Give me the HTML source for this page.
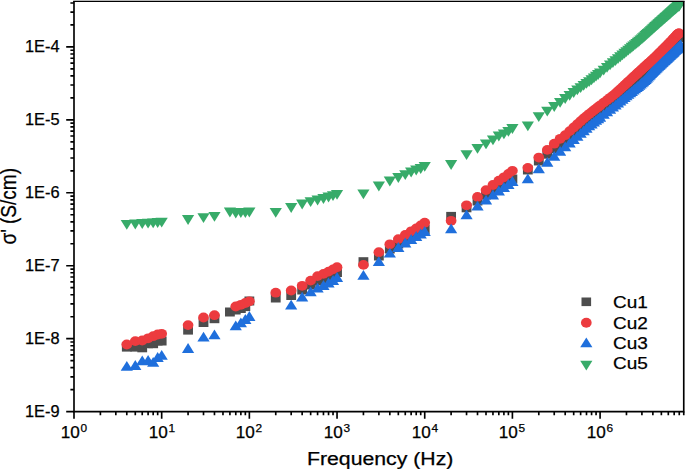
<!DOCTYPE html>
<html><head><meta charset="utf-8"><style>
html,body{margin:0;padding:0;background:#fff;}
body{width:685px;height:469px;position:relative;overflow:hidden;font-family:"Liberation Sans", sans-serif;color:#000;-webkit-text-stroke:0.25px #000;}
.yl{position:absolute;left:0;width:59.6px;text-align:right;font-size:15.6px;line-height:19px;white-space:nowrap;transform-origin:100% 50%;transform:scaleX(1.05);}
.xl{position:absolute;top:423.4px;width:40px;text-align:center;font-size:15.6px;line-height:19px;white-space:nowrap;transform-origin:50% 50%;transform:scaleX(1.1);}
.xl sup{font-size:10.8px;vertical-align:0;position:relative;top:-6px;margin-left:0.6px;}
.lg{position:absolute;left:613px;font-size:16.5px;line-height:19px;white-space:nowrap;transform-origin:0 0;transform:scaleX(1.15);}
.xt{position:absolute;left:307.2px;top:448.6px;font-size:18px;line-height:20px;white-space:nowrap;transform-origin:0 0;transform:scaleX(1.18);}
.yt{position:absolute;left:0;top:0;font-size:19px;line-height:20px;white-space:nowrap;transform-origin:0 0;transform:translate(-2.5px,244.6px) rotate(-90deg) scaleY(1.16);}
</style></head><body>
<svg width="685" height="469" viewBox="0 0 685 469" style="position:absolute;left:0;top:0"><defs><clipPath id="c"><rect x="74" y="1.15" width="609.75" height="410.45000000000005"/></clipPath></defs><g clip-path="url(#c)"><g fill="#4d4d4d"><rect x="121.89" y="342.60" width="9.8" height="9.0"/><rect x="130.39" y="342.60" width="9.8" height="9.0"/><rect x="137.33" y="343.30" width="9.8" height="9.0"/><rect x="143.20" y="339.20" width="9.8" height="9.0"/><rect x="148.28" y="339.20" width="9.8" height="9.0"/><rect x="152.77" y="336.50" width="9.8" height="9.0"/><rect x="156.78" y="336.50" width="9.8" height="9.0"/><rect x="183.17" y="325.60" width="9.8" height="9.0"/><rect x="198.61" y="318.00" width="9.8" height="9.0"/><rect x="209.57" y="314.20" width="9.8" height="9.0"/><rect x="225.01" y="307.50" width="9.8" height="9.0"/><rect x="230.88" y="305.50" width="9.8" height="9.0"/><rect x="235.96" y="304.00" width="9.8" height="9.0"/><rect x="240.45" y="302.10" width="9.8" height="9.0"/><rect x="244.46" y="296.50" width="9.8" height="9.0"/><rect x="270.85" y="293.50" width="9.8" height="9.0"/><rect x="286.29" y="291.00" width="9.8" height="9.0"/><rect x="297.25" y="285.50" width="9.8" height="9.0"/><rect x="305.75" y="280.50" width="9.8" height="9.0"/><rect x="312.69" y="276.50" width="9.8" height="9.0"/><rect x="318.56" y="274.00" width="9.8" height="9.0"/><rect x="323.64" y="271.50" width="9.8" height="9.0"/><rect x="328.13" y="269.50" width="9.8" height="9.0"/><rect x="332.14" y="268.00" width="9.8" height="9.0"/><rect x="358.53" y="257.20" width="9.8" height="9.0"/><rect x="373.97" y="251.50" width="9.8" height="9.0"/><rect x="384.93" y="244.50" width="9.8" height="9.0"/><rect x="393.43" y="239.50" width="9.8" height="9.0"/><rect x="400.37" y="235.50" width="9.8" height="9.0"/><rect x="406.24" y="231.50" width="9.8" height="9.0"/><rect x="411.32" y="228.50" width="9.8" height="9.0"/><rect x="415.81" y="226.50" width="9.8" height="9.0"/><rect x="419.82" y="225.00" width="9.8" height="9.0"/><rect x="446.21" y="211.90" width="9.8" height="9.0"/><rect x="461.65" y="203.30" width="9.8" height="9.0"/><rect x="472.61" y="196.50" width="9.8" height="9.0"/><rect x="481.11" y="190.50" width="9.8" height="9.0"/><rect x="488.05" y="185.50" width="9.8" height="9.0"/><rect x="493.92" y="181.50" width="9.8" height="9.0"/><rect x="499.00" y="178.50" width="9.8" height="9.0"/><rect x="503.49" y="176.00" width="9.8" height="9.0"/><rect x="507.50" y="174.50" width="9.8" height="9.0"/><rect x="522.94" y="165.47" width="9.8" height="9.0"/><rect x="533.89" y="156.45" width="9.8" height="9.0"/><rect x="542.39" y="149.69" width="9.8" height="9.0"/><rect x="549.33" y="144.17" width="9.8" height="9.0"/><rect x="555.20" y="139.50" width="9.8" height="9.0"/><rect x="560.29" y="135.38" width="9.8" height="9.0"/><rect x="564.77" y="131.33" width="9.8" height="9.0"/><rect x="568.79" y="127.71" width="9.8" height="9.0"/><rect x="572.42" y="124.44" width="9.8" height="9.0"/><rect x="575.73" y="121.45" width="9.8" height="9.0"/><rect x="578.78" y="118.69" width="9.8" height="9.0"/><rect x="581.60" y="116.40" width="9.8" height="9.0"/><rect x="584.23" y="114.47" width="9.8" height="9.0"/><rect x="586.68" y="112.67" width="9.8" height="9.0"/><rect x="588.99" y="110.98" width="9.8" height="9.0"/><rect x="591.17" y="109.38" width="9.8" height="9.0"/><rect x="593.23" y="107.87" width="9.8" height="9.0"/><rect x="595.18" y="106.43" width="9.8" height="9.0"/><rect x="598.81" y="103.41" width="9.8" height="9.0"/><rect x="602.12" y="100.65" width="9.8" height="9.0"/><rect x="605.17" y="98.11" width="9.8" height="9.0"/><rect x="607.99" y="95.76" width="9.8" height="9.0"/><rect x="610.62" y="93.51" width="9.8" height="9.0"/><rect x="613.08" y="91.20" width="9.8" height="9.0"/><rect x="615.39" y="89.03" width="9.8" height="9.0"/><rect x="617.56" y="86.99" width="9.8" height="9.0"/><rect x="619.62" y="85.05" width="9.8" height="9.0"/><rect x="621.57" y="83.21" width="9.8" height="9.0"/><rect x="623.43" y="81.47" width="9.8" height="9.0"/><rect x="625.20" y="79.80" width="9.8" height="9.0"/><rect x="626.90" y="78.21" width="9.8" height="9.0"/><rect x="628.52" y="76.69" width="9.8" height="9.0"/><rect x="630.07" y="75.23" width="9.8" height="9.0"/><rect x="631.56" y="73.82" width="9.8" height="9.0"/><rect x="633.00" y="72.47" width="9.8" height="9.0"/><rect x="634.39" y="71.17" width="9.8" height="9.0"/><rect x="635.72" y="69.89" width="9.8" height="9.0"/><rect x="637.01" y="68.61" width="9.8" height="9.0"/><rect x="638.26" y="67.38" width="9.8" height="9.0"/><rect x="639.47" y="66.19" width="9.8" height="9.0"/><rect x="640.64" y="65.03" width="9.8" height="9.0"/><rect x="641.78" y="63.91" width="9.8" height="9.0"/><rect x="642.88" y="62.82" width="9.8" height="9.0"/><rect x="643.96" y="61.76" width="9.8" height="9.0"/><rect x="645.00" y="60.73" width="9.8" height="9.0"/><rect x="646.02" y="59.73" width="9.8" height="9.0"/><rect x="647.00" y="58.75" width="9.8" height="9.0"/><rect x="647.97" y="57.80" width="9.8" height="9.0"/><rect x="648.91" y="56.87" width="9.8" height="9.0"/><rect x="649.83" y="55.96" width="9.8" height="9.0"/><rect x="650.72" y="55.08" width="9.8" height="9.0"/><rect x="651.60" y="54.22" width="9.8" height="9.0"/><rect x="652.45" y="53.37" width="9.8" height="9.0"/><rect x="653.29" y="52.55" width="9.8" height="9.0"/><rect x="654.11" y="51.74" width="9.8" height="9.0"/><rect x="654.91" y="50.95" width="9.8" height="9.0"/><rect x="655.70" y="50.17" width="9.8" height="9.0"/><rect x="656.47" y="49.41" width="9.8" height="9.0"/><rect x="657.22" y="48.67" width="9.8" height="9.0"/><rect x="657.96" y="47.94" width="9.8" height="9.0"/><rect x="658.68" y="47.22" width="9.8" height="9.0"/><rect x="659.40" y="46.52" width="9.8" height="9.0"/><rect x="660.10" y="45.83" width="9.8" height="9.0"/><rect x="660.78" y="45.15" width="9.8" height="9.0"/><rect x="661.46" y="44.49" width="9.8" height="9.0"/><rect x="662.12" y="43.83" width="9.8" height="9.0"/><rect x="662.77" y="43.19" width="9.8" height="9.0"/><rect x="663.41" y="42.56" width="9.8" height="9.0"/><rect x="664.04" y="41.94" width="9.8" height="9.0"/><rect x="664.66" y="41.33" width="9.8" height="9.0"/><rect x="665.27" y="40.73" width="9.8" height="9.0"/><rect x="665.87" y="40.13" width="9.8" height="9.0"/><rect x="666.46" y="39.55" width="9.8" height="9.0"/><rect x="667.04" y="38.98" width="9.8" height="9.0"/><rect x="667.61" y="38.41" width="9.8" height="9.0"/><rect x="668.17" y="37.86" width="9.8" height="9.0"/><rect x="668.73" y="37.31" width="9.8" height="9.0"/><rect x="669.28" y="36.77" width="9.8" height="9.0"/><rect x="669.82" y="36.23" width="9.8" height="9.0"/><rect x="670.35" y="35.71" width="9.8" height="9.0"/><rect x="670.88" y="35.19" width="9.8" height="9.0"/><rect x="671.39" y="34.68" width="9.8" height="9.0"/><rect x="671.91" y="34.17" width="9.8" height="9.0"/><rect x="672.41" y="33.67" width="9.8" height="9.0"/><rect x="672.91" y="33.18" width="9.8" height="9.0"/><rect x="673.40" y="32.70" width="9.8" height="9.0"/><rect x="673.88" y="32.50" width="9.8" height="9.0"/><rect x="674.36" y="32.50" width="9.8" height="9.0"/></g><g fill="#ec3b3f"><ellipse cx="126.79" cy="344.50" rx="5.35" ry="4.9"/><ellipse cx="135.29" cy="341.10" rx="5.35" ry="4.9"/><ellipse cx="142.23" cy="340.50" rx="5.35" ry="4.9"/><ellipse cx="148.10" cy="338.30" rx="5.35" ry="4.9"/><ellipse cx="153.18" cy="336.20" rx="5.35" ry="4.9"/><ellipse cx="157.67" cy="334.50" rx="5.35" ry="4.9"/><ellipse cx="161.68" cy="333.80" rx="5.35" ry="4.9"/><ellipse cx="188.07" cy="325.10" rx="5.35" ry="4.9"/><ellipse cx="203.51" cy="317.50" rx="5.35" ry="4.9"/><ellipse cx="214.47" cy="315.20" rx="5.35" ry="4.9"/><ellipse cx="235.78" cy="306.50" rx="5.35" ry="4.9"/><ellipse cx="240.86" cy="304.80" rx="5.35" ry="4.9"/><ellipse cx="245.35" cy="303.00" rx="5.35" ry="4.9"/><ellipse cx="249.36" cy="301.30" rx="5.35" ry="4.9"/><ellipse cx="275.75" cy="292.70" rx="5.35" ry="4.9"/><ellipse cx="291.19" cy="290.50" rx="5.35" ry="4.9"/><ellipse cx="302.15" cy="285.80" rx="5.35" ry="4.9"/><ellipse cx="310.65" cy="280.60" rx="5.35" ry="4.9"/><ellipse cx="317.59" cy="276.10" rx="5.35" ry="4.9"/><ellipse cx="323.46" cy="273.90" rx="5.35" ry="4.9"/><ellipse cx="328.54" cy="271.60" rx="5.35" ry="4.9"/><ellipse cx="333.03" cy="269.40" rx="5.35" ry="4.9"/><ellipse cx="337.04" cy="267.20" rx="5.35" ry="4.9"/><ellipse cx="363.43" cy="264.90" rx="5.35" ry="4.9"/><ellipse cx="378.87" cy="252.20" rx="5.35" ry="4.9"/><ellipse cx="389.83" cy="244.30" rx="5.35" ry="4.9"/><ellipse cx="398.33" cy="239.10" rx="5.35" ry="4.9"/><ellipse cx="405.27" cy="235.00" rx="5.35" ry="4.9"/><ellipse cx="411.14" cy="231.30" rx="5.35" ry="4.9"/><ellipse cx="416.22" cy="228.40" rx="5.35" ry="4.9"/><ellipse cx="420.71" cy="225.40" rx="5.35" ry="4.9"/><ellipse cx="424.72" cy="222.70" rx="5.35" ry="4.9"/><ellipse cx="451.11" cy="220.80" rx="5.35" ry="4.9"/><ellipse cx="466.55" cy="205.30" rx="5.35" ry="4.9"/><ellipse cx="477.51" cy="196.90" rx="5.35" ry="4.9"/><ellipse cx="486.01" cy="190.10" rx="5.35" ry="4.9"/><ellipse cx="492.95" cy="185.00" rx="5.35" ry="4.9"/><ellipse cx="498.82" cy="180.70" rx="5.35" ry="4.9"/><ellipse cx="503.90" cy="177.30" rx="5.35" ry="4.9"/><ellipse cx="508.39" cy="173.90" rx="5.35" ry="4.9"/><ellipse cx="512.40" cy="170.80" rx="5.35" ry="4.9"/><ellipse cx="527.84" cy="167.86" rx="5.35" ry="4.9"/><ellipse cx="538.79" cy="157.57" rx="5.35" ry="4.9"/><ellipse cx="547.29" cy="149.88" rx="5.35" ry="4.9"/><ellipse cx="554.23" cy="143.68" rx="5.35" ry="4.9"/><ellipse cx="560.10" cy="138.82" rx="5.35" ry="4.9"/><ellipse cx="565.19" cy="135.18" rx="5.35" ry="4.9"/><ellipse cx="569.67" cy="131.13" rx="5.35" ry="4.9"/><ellipse cx="573.69" cy="127.51" rx="5.35" ry="4.9"/><ellipse cx="577.32" cy="124.24" rx="5.35" ry="4.9"/><ellipse cx="580.63" cy="121.25" rx="5.35" ry="4.9"/><ellipse cx="583.68" cy="118.49" rx="5.35" ry="4.9"/><ellipse cx="586.50" cy="116.12" rx="5.35" ry="4.9"/><ellipse cx="589.13" cy="114.05" rx="5.35" ry="4.9"/><ellipse cx="591.58" cy="112.12" rx="5.35" ry="4.9"/><ellipse cx="593.89" cy="110.31" rx="5.35" ry="4.9"/><ellipse cx="596.07" cy="108.59" rx="5.35" ry="4.9"/><ellipse cx="598.13" cy="106.97" rx="5.35" ry="4.9"/><ellipse cx="600.08" cy="105.44" rx="5.35" ry="4.9"/><ellipse cx="603.71" cy="102.66" rx="5.35" ry="4.9"/><ellipse cx="607.02" cy="100.12" rx="5.35" ry="4.9"/><ellipse cx="610.07" cy="97.78" rx="5.35" ry="4.9"/><ellipse cx="612.89" cy="95.62" rx="5.35" ry="4.9"/><ellipse cx="615.52" cy="93.52" rx="5.35" ry="4.9"/><ellipse cx="617.98" cy="91.26" rx="5.35" ry="4.9"/><ellipse cx="620.29" cy="89.14" rx="5.35" ry="4.9"/><ellipse cx="622.46" cy="87.13" rx="5.35" ry="4.9"/><ellipse cx="624.52" cy="85.24" rx="5.35" ry="4.9"/><ellipse cx="626.47" cy="83.44" rx="5.35" ry="4.9"/><ellipse cx="628.33" cy="81.73" rx="5.35" ry="4.9"/><ellipse cx="630.10" cy="80.10" rx="5.35" ry="4.9"/><ellipse cx="631.80" cy="78.55" rx="5.35" ry="4.9"/><ellipse cx="633.42" cy="77.06" rx="5.35" ry="4.9"/><ellipse cx="634.97" cy="75.63" rx="5.35" ry="4.9"/><ellipse cx="636.46" cy="74.25" rx="5.35" ry="4.9"/><ellipse cx="637.90" cy="72.93" rx="5.35" ry="4.9"/><ellipse cx="639.29" cy="71.66" rx="5.35" ry="4.9"/><ellipse cx="640.62" cy="70.44" rx="5.35" ry="4.9"/><ellipse cx="641.91" cy="69.28" rx="5.35" ry="4.9"/><ellipse cx="643.16" cy="68.15" rx="5.35" ry="4.9"/><ellipse cx="644.37" cy="67.07" rx="5.35" ry="4.9"/><ellipse cx="645.54" cy="66.01" rx="5.35" ry="4.9"/><ellipse cx="646.68" cy="64.99" rx="5.35" ry="4.9"/><ellipse cx="647.78" cy="63.99" rx="5.35" ry="4.9"/><ellipse cx="648.86" cy="63.03" rx="5.35" ry="4.9"/><ellipse cx="649.90" cy="62.09" rx="5.35" ry="4.9"/><ellipse cx="650.92" cy="61.18" rx="5.35" ry="4.9"/><ellipse cx="651.90" cy="60.29" rx="5.35" ry="4.9"/><ellipse cx="652.87" cy="59.42" rx="5.35" ry="4.9"/><ellipse cx="653.81" cy="58.57" rx="5.35" ry="4.9"/><ellipse cx="654.73" cy="57.75" rx="5.35" ry="4.9"/><ellipse cx="655.62" cy="56.88" rx="5.35" ry="4.9"/><ellipse cx="656.50" cy="56.01" rx="5.35" ry="4.9"/><ellipse cx="657.35" cy="55.16" rx="5.35" ry="4.9"/><ellipse cx="658.19" cy="54.33" rx="5.35" ry="4.9"/><ellipse cx="659.01" cy="53.52" rx="5.35" ry="4.9"/><ellipse cx="659.81" cy="52.72" rx="5.35" ry="4.9"/><ellipse cx="660.60" cy="51.94" rx="5.35" ry="4.9"/><ellipse cx="661.37" cy="51.18" rx="5.35" ry="4.9"/><ellipse cx="662.12" cy="50.43" rx="5.35" ry="4.9"/><ellipse cx="662.86" cy="49.69" rx="5.35" ry="4.9"/><ellipse cx="663.58" cy="48.97" rx="5.35" ry="4.9"/><ellipse cx="664.30" cy="48.27" rx="5.35" ry="4.9"/><ellipse cx="665.00" cy="47.57" rx="5.35" ry="4.9"/><ellipse cx="665.68" cy="46.89" rx="5.35" ry="4.9"/><ellipse cx="666.36" cy="46.22" rx="5.35" ry="4.9"/><ellipse cx="667.02" cy="45.56" rx="5.35" ry="4.9"/><ellipse cx="667.67" cy="44.92" rx="5.35" ry="4.9"/><ellipse cx="668.31" cy="44.28" rx="5.35" ry="4.9"/><ellipse cx="668.94" cy="43.66" rx="5.35" ry="4.9"/><ellipse cx="669.56" cy="43.04" rx="5.35" ry="4.9"/><ellipse cx="670.17" cy="42.42" rx="5.35" ry="4.9"/><ellipse cx="670.77" cy="41.78" rx="5.35" ry="4.9"/><ellipse cx="671.36" cy="41.15" rx="5.35" ry="4.9"/><ellipse cx="671.94" cy="40.53" rx="5.35" ry="4.9"/><ellipse cx="672.51" cy="39.91" rx="5.35" ry="4.9"/><ellipse cx="673.07" cy="39.31" rx="5.35" ry="4.9"/><ellipse cx="673.63" cy="38.71" rx="5.35" ry="4.9"/><ellipse cx="674.18" cy="38.13" rx="5.35" ry="4.9"/><ellipse cx="674.72" cy="37.55" rx="5.35" ry="4.9"/><ellipse cx="675.25" cy="36.98" rx="5.35" ry="4.9"/><ellipse cx="675.78" cy="36.42" rx="5.35" ry="4.9"/><ellipse cx="676.29" cy="35.86" rx="5.35" ry="4.9"/><ellipse cx="676.81" cy="35.31" rx="5.35" ry="4.9"/><ellipse cx="677.31" cy="34.77" rx="5.35" ry="4.9"/><ellipse cx="677.81" cy="34.24" rx="5.35" ry="4.9"/><ellipse cx="678.30" cy="33.72" rx="5.35" ry="4.9"/><ellipse cx="678.78" cy="33.50" rx="5.35" ry="4.9"/><ellipse cx="679.26" cy="33.50" rx="5.35" ry="4.9"/></g><g fill="#1f6fdc"><path d="M126.79 360.90L132.89 370.70L120.69 370.70Z"/><path d="M135.29 360.10L141.39 369.90L129.19 369.90Z"/><path d="M142.23 355.40L148.33 365.20L136.13 365.20Z"/><path d="M148.10 355.10L154.20 364.90L142.00 364.90Z"/><path d="M153.18 356.90L159.28 366.70L147.08 366.70Z"/><path d="M157.67 352.10L163.77 361.90L151.57 361.90Z"/><path d="M161.68 349.90L167.78 359.70L155.58 359.70Z"/><path d="M188.07 343.10L194.17 352.90L181.97 352.90Z"/><path d="M203.51 331.70L209.61 341.50L197.41 341.50Z"/><path d="M214.47 329.40L220.57 339.20L208.37 339.20Z"/><path d="M235.78 320.40L241.88 330.20L229.68 330.20Z"/><path d="M240.86 317.50L246.96 327.30L234.76 327.30Z"/><path d="M245.35 314.10L251.45 323.90L239.25 323.90Z"/><path d="M249.36 311.10L255.46 320.90L243.26 320.90Z"/><path d="M291.19 299.70L297.29 309.50L285.09 309.50Z"/><path d="M302.15 291.70L308.25 301.50L296.05 301.50Z"/><path d="M310.65 286.50L316.75 296.30L304.55 296.30Z"/><path d="M317.59 282.80L323.69 292.60L311.49 292.60Z"/><path d="M323.46 280.10L329.56 289.90L317.36 289.90Z"/><path d="M328.54 277.60L334.64 287.40L322.44 287.40Z"/><path d="M333.03 275.10L339.13 284.90L326.93 284.90Z"/><path d="M337.04 272.10L343.14 281.90L330.94 281.90Z"/><path d="M363.43 270.00L369.53 279.80L357.33 279.80Z"/><path d="M378.87 256.30L384.97 266.10L372.77 266.10Z"/><path d="M389.83 247.80L395.93 257.60L383.73 257.60Z"/><path d="M398.33 242.10L404.43 251.90L392.23 251.90Z"/><path d="M405.27 237.60L411.37 247.40L399.17 247.40Z"/><path d="M411.14 234.10L417.24 243.90L405.04 243.90Z"/><path d="M416.22 231.10L422.32 240.90L410.12 240.90Z"/><path d="M420.71 228.60L426.81 238.40L414.61 238.40Z"/><path d="M424.72 226.10L430.82 235.90L418.62 235.90Z"/><path d="M451.11 223.50L457.21 233.30L445.01 233.30Z"/><path d="M466.55 209.40L472.65 219.20L460.45 219.20Z"/><path d="M477.51 200.70L483.61 210.50L471.41 210.50Z"/><path d="M486.01 194.70L492.11 204.50L479.91 204.50Z"/><path d="M492.95 189.60L499.05 199.40L486.85 199.40Z"/><path d="M498.82 185.60L504.92 195.40L492.72 195.40Z"/><path d="M503.90 182.10L510.00 191.90L497.80 191.90Z"/><path d="M508.39 179.10L514.49 188.90L502.29 188.90Z"/><path d="M512.40 176.10L518.50 185.90L506.30 185.90Z"/><path d="M527.84 173.46L533.94 183.26L521.74 183.26Z"/><path d="M538.79 163.57L544.89 173.37L532.69 173.37Z"/><path d="M547.29 157.01L553.39 166.81L541.19 166.81Z"/><path d="M554.23 151.05L560.33 160.85L548.13 160.85Z"/><path d="M560.10 146.01L566.20 155.81L554.00 155.81Z"/><path d="M565.19 141.55L571.29 151.35L559.09 151.35Z"/><path d="M569.67 137.61L575.77 147.41L563.57 147.41Z"/><path d="M573.69 134.10L579.79 143.90L567.59 143.90Z"/><path d="M577.32 130.91L583.42 140.71L571.22 140.71Z"/><path d="M580.63 128.01L586.73 137.81L574.53 137.81Z"/><path d="M583.68 125.33L589.78 135.13L577.58 135.13Z"/><path d="M586.50 122.86L592.60 132.66L580.40 132.66Z"/><path d="M589.13 120.55L595.23 130.35L583.03 130.35Z"/><path d="M591.58 118.59L597.68 128.39L585.48 128.39Z"/><path d="M593.89 116.75L599.99 126.55L587.79 126.55Z"/><path d="M596.07 115.02L602.17 124.82L589.97 124.82Z"/><path d="M598.13 113.39L604.23 123.19L592.03 123.19Z"/><path d="M600.08 111.84L606.18 121.64L593.98 121.64Z"/><path d="M603.71 108.98L609.81 118.78L597.61 118.78Z"/><path d="M607.02 106.38L613.12 116.18L600.92 116.18Z"/><path d="M610.07 103.98L616.17 113.78L603.97 113.78Z"/><path d="M612.89 101.76L618.99 111.56L606.79 111.56Z"/><path d="M615.52 99.67L621.62 109.47L609.42 109.47Z"/><path d="M617.98 97.62L624.08 107.42L611.88 107.42Z"/><path d="M620.29 95.70L626.39 105.50L614.19 105.50Z"/><path d="M622.46 93.88L628.56 103.68L616.36 103.68Z"/><path d="M624.52 92.17L630.62 101.97L618.42 101.97Z"/><path d="M626.47 90.54L632.57 100.34L620.37 100.34Z"/><path d="M628.33 88.99L634.43 98.79L622.23 98.79Z"/><path d="M630.10 87.52L636.20 97.32L624.00 97.32Z"/><path d="M631.80 86.13L637.90 95.93L625.70 95.93Z"/><path d="M633.42 84.80L639.52 94.60L627.32 94.60Z"/><path d="M634.97 83.52L641.07 93.32L628.87 93.32Z"/><path d="M636.46 82.30L642.56 92.10L630.36 92.10Z"/><path d="M637.90 81.12L644.00 90.92L631.80 90.92Z"/><path d="M639.29 79.94L645.39 89.74L633.19 89.74Z"/><path d="M640.62 78.72L646.72 88.52L634.52 88.52Z"/><path d="M641.91 77.53L648.01 87.33L635.81 87.33Z"/><path d="M643.16 76.38L649.26 86.18L637.06 86.18Z"/><path d="M644.37 75.27L650.47 85.07L638.27 85.07Z"/><path d="M645.54 74.20L651.64 84.00L639.44 84.00Z"/><path d="M646.68 73.06L652.78 82.86L640.58 82.86Z"/><path d="M647.78 71.79L653.88 81.59L641.68 81.59Z"/><path d="M648.86 70.55L654.96 80.35L642.76 80.35Z"/><path d="M649.90 69.34L656.00 79.14L643.80 79.14Z"/><path d="M650.92 68.18L657.02 77.98L644.82 77.98Z"/><path d="M651.90 67.20L658.00 77.00L645.80 77.00Z"/><path d="M652.87 66.23L658.97 76.03L646.77 76.03Z"/><path d="M653.81 65.29L659.91 75.09L647.71 75.09Z"/><path d="M654.73 64.37L660.83 74.17L648.63 74.17Z"/><path d="M655.62 63.48L661.72 73.28L649.52 73.28Z"/><path d="M656.50 62.60L662.60 72.40L650.40 72.40Z"/><path d="M657.35 61.75L663.45 71.55L651.25 71.55Z"/><path d="M658.19 60.91L664.29 70.71L652.09 70.71Z"/><path d="M659.01 60.13L665.11 69.93L652.91 69.93Z"/><path d="M659.81 59.37L665.91 69.17L653.71 69.17Z"/><path d="M660.60 58.63L666.70 68.43L654.50 68.43Z"/><path d="M661.37 57.91L667.47 67.71L655.27 67.71Z"/><path d="M662.12 57.20L668.22 67.00L656.02 67.00Z"/><path d="M662.86 56.50L668.96 66.30L656.76 66.30Z"/><path d="M663.58 55.81L669.68 65.61L657.48 65.61Z"/><path d="M664.30 55.14L670.40 64.94L658.20 64.94Z"/><path d="M665.00 54.48L671.10 64.28L658.90 64.28Z"/><path d="M665.68 53.84L671.78 63.64L659.58 63.64Z"/><path d="M666.36 53.20L672.46 63.00L660.26 63.00Z"/><path d="M667.02 52.58L673.12 62.38L660.92 62.38Z"/><path d="M667.67 51.96L673.77 61.76L661.57 61.76Z"/><path d="M668.31 51.36L674.41 61.16L662.21 61.16Z"/><path d="M668.94 50.76L675.04 60.56L662.84 60.56Z"/><path d="M669.56 50.18L675.66 59.98L663.46 59.98Z"/><path d="M670.17 49.60L676.27 59.40L664.07 59.40Z"/><path d="M670.77 49.04L676.87 58.84L664.67 58.84Z"/><path d="M671.36 48.48L677.46 58.28L665.26 58.28Z"/><path d="M671.94 47.93L678.04 57.73L665.84 57.73Z"/><path d="M672.51 47.39L678.61 57.19L666.41 57.19Z"/><path d="M673.07 46.86L679.17 56.66L666.97 56.66Z"/><path d="M673.63 46.34L679.73 56.14L667.53 56.14Z"/><path d="M674.18 45.82L680.28 55.62L668.08 55.62Z"/><path d="M674.72 45.31L680.82 55.11L668.62 55.11Z"/><path d="M675.25 44.81L681.35 54.61L669.15 54.61Z"/><path d="M675.78 44.31L681.88 54.11L669.68 54.11Z"/><path d="M676.29 43.82L682.39 53.62L670.19 53.62Z"/><path d="M676.81 43.33L682.91 53.13L670.71 53.13Z"/><path d="M677.31 42.84L683.41 52.64L671.21 52.64Z"/><path d="M677.81 42.36L683.91 52.16L671.71 52.16Z"/><path d="M678.30 41.89L684.40 51.69L672.20 51.69Z"/><path d="M678.78 41.43L684.88 51.23L672.68 51.23Z"/><path d="M679.26 40.97L685.36 50.77L673.16 50.77Z"/><path d="M679.74 40.51L685.84 50.31L673.64 50.31Z"/><path d="M680.20 40.06L686.30 49.86L674.10 49.86Z"/><path d="M680.66 39.62L686.76 49.42L674.56 49.42Z"/></g><g fill="#37ab69"><path d="M120.69 220.00L132.89 220.00L126.79 229.80Z"/><path d="M129.19 219.60L141.39 219.60L135.29 229.40Z"/><path d="M136.13 219.10L148.33 219.10L142.23 228.90Z"/><path d="M142.00 218.80L154.20 218.80L148.10 228.60Z"/><path d="M147.08 218.40L159.28 218.40L153.18 228.20Z"/><path d="M151.57 218.10L163.77 218.10L157.67 227.90Z"/><path d="M155.58 217.80L167.78 217.80L161.68 227.60Z"/><path d="M181.97 215.10L194.17 215.10L188.07 224.90Z"/><path d="M197.41 213.30L209.61 213.30L203.51 223.10Z"/><path d="M208.37 211.90L220.57 211.90L214.47 221.70Z"/><path d="M223.81 207.60L236.01 207.60L229.91 217.40Z"/><path d="M229.68 208.60L241.88 208.60L235.78 218.40Z"/><path d="M234.76 208.10L246.96 208.10L240.86 217.90Z"/><path d="M239.25 208.10L251.45 208.10L245.35 217.90Z"/><path d="M243.26 207.60L255.46 207.60L249.36 217.40Z"/><path d="M269.65 207.90L281.85 207.90L275.75 217.70Z"/><path d="M285.09 203.10L297.29 203.10L291.19 212.90Z"/><path d="M296.05 199.60L308.25 199.60L302.15 209.40Z"/><path d="M304.55 197.30L316.75 197.30L310.65 207.10Z"/><path d="M311.49 195.60L323.69 195.60L317.59 205.40Z"/><path d="M317.36 194.10L329.56 194.10L323.46 203.90Z"/><path d="M322.44 192.60L334.64 192.60L328.54 202.40Z"/><path d="M326.93 191.30L339.13 191.30L333.03 201.10Z"/><path d="M330.94 189.90L343.14 189.90L337.04 199.70Z"/><path d="M357.33 189.40L369.53 189.40L363.43 199.20Z"/><path d="M372.77 181.60L384.97 181.60L378.87 191.40Z"/><path d="M383.73 176.60L395.93 176.60L389.83 186.40Z"/><path d="M392.23 173.10L404.43 173.10L398.33 182.90Z"/><path d="M399.17 170.30L411.37 170.30L405.27 180.10Z"/><path d="M405.04 167.60L417.24 167.60L411.14 177.40Z"/><path d="M410.12 165.60L422.32 165.60L416.22 175.40Z"/><path d="M414.61 164.10L426.81 164.10L420.71 173.90Z"/><path d="M418.62 161.90L430.82 161.90L424.72 171.70Z"/><path d="M445.01 160.10L457.21 160.10L451.11 169.90Z"/><path d="M460.45 150.30L472.65 150.30L466.55 160.10Z"/><path d="M471.41 144.00L483.61 144.00L477.51 153.80Z"/><path d="M479.91 139.40L492.11 139.40L486.01 149.20Z"/><path d="M486.85 135.40L499.05 135.40L492.95 145.20Z"/><path d="M492.72 131.60L504.92 131.60L498.82 141.40Z"/><path d="M497.80 129.40L510.00 129.40L503.90 139.20Z"/><path d="M502.29 126.90L514.49 126.90L508.39 136.70Z"/><path d="M506.30 124.10L518.50 124.10L512.40 133.90Z"/><path d="M521.74 121.57L533.94 121.57L527.84 131.37Z"/><path d="M532.69 112.24L544.89 112.24L538.79 122.04Z"/><path d="M541.19 106.65L553.39 106.65L547.29 116.45Z"/><path d="M548.13 102.10L560.33 102.10L554.23 111.90Z"/><path d="M554.00 98.05L566.20 98.05L560.10 107.85Z"/><path d="M559.09 94.11L571.29 94.11L565.19 103.91Z"/><path d="M563.57 90.93L575.77 90.93L569.67 100.73Z"/><path d="M567.59 88.10L579.79 88.10L573.69 97.90Z"/><path d="M571.22 85.54L583.42 85.54L577.32 95.34Z"/><path d="M574.53 83.20L586.73 83.20L580.63 93.00Z"/><path d="M577.58 81.06L589.78 81.06L583.68 90.86Z"/><path d="M580.40 79.07L592.60 79.07L586.50 88.87Z"/><path d="M583.03 77.22L595.23 77.22L589.13 87.02Z"/><path d="M585.48 75.33L597.68 75.33L591.58 85.13Z"/><path d="M587.79 73.49L599.99 73.49L593.89 83.29Z"/><path d="M589.97 71.75L602.17 71.75L596.07 81.55Z"/><path d="M592.03 70.10L604.23 70.10L598.13 79.90Z"/><path d="M593.98 68.54L606.18 68.54L600.08 78.34Z"/><path d="M597.61 65.63L609.81 65.63L603.71 75.43Z"/><path d="M600.92 62.98L613.12 62.98L607.02 72.78Z"/><path d="M603.97 60.54L616.17 60.54L610.07 70.34Z"/><path d="M606.79 58.29L618.99 58.29L612.89 68.09Z"/><path d="M609.42 56.18L621.62 56.18L615.52 65.98Z"/><path d="M611.88 54.22L624.08 54.22L617.98 64.02Z"/><path d="M614.19 52.36L626.39 52.36L620.29 62.16Z"/><path d="M616.36 50.57L628.56 50.57L622.46 60.37Z"/><path d="M618.42 48.87L630.62 48.87L624.52 58.67Z"/><path d="M620.37 47.26L632.57 47.26L626.47 57.06Z"/><path d="M622.23 45.73L634.43 45.73L628.33 55.53Z"/><path d="M624.00 44.26L636.20 44.26L630.10 54.06Z"/><path d="M625.70 42.87L637.90 42.87L631.80 52.67Z"/><path d="M627.32 41.53L639.52 41.53L633.42 51.33Z"/><path d="M628.87 40.25L641.07 40.25L634.97 50.05Z"/><path d="M630.36 39.02L642.56 39.02L636.46 48.82Z"/><path d="M631.80 37.83L644.00 37.83L637.90 47.63Z"/><path d="M633.19 36.69L645.39 36.69L639.29 46.49Z"/><path d="M634.52 35.54L646.72 35.54L640.62 45.34Z"/><path d="M635.81 34.38L648.01 34.38L641.91 44.18Z"/><path d="M637.06 33.25L649.26 33.25L643.16 43.05Z"/><path d="M638.27 32.17L650.47 32.17L644.37 41.97Z"/><path d="M639.44 31.11L651.64 31.11L645.54 40.91Z"/><path d="M640.58 30.09L652.78 30.09L646.68 39.89Z"/><path d="M641.68 29.09L653.88 29.09L647.78 38.89Z"/><path d="M642.76 28.13L654.96 28.13L648.86 37.93Z"/><path d="M643.80 27.19L656.00 27.19L649.90 36.99Z"/><path d="M644.82 26.28L657.02 26.28L650.92 36.08Z"/><path d="M645.80 25.39L658.00 25.39L651.90 35.19Z"/><path d="M646.77 24.52L658.97 24.52L652.87 34.32Z"/><path d="M647.71 23.67L659.91 23.67L653.81 33.47Z"/><path d="M648.63 22.85L660.83 22.85L654.73 32.65Z"/><path d="M649.52 22.04L661.72 22.04L655.62 31.84Z"/><path d="M650.40 21.25L662.60 21.25L656.50 31.05Z"/><path d="M651.25 20.48L663.45 20.48L657.35 30.28Z"/><path d="M652.09 19.73L664.29 19.73L658.19 29.53Z"/><path d="M652.91 18.99L665.11 18.99L659.01 28.79Z"/><path d="M653.71 18.27L665.91 18.27L659.81 28.07Z"/><path d="M654.50 17.57L666.70 17.57L660.60 27.37Z"/><path d="M655.27 16.89L667.47 16.89L661.37 26.69Z"/><path d="M656.02 16.22L668.22 16.22L662.12 26.02Z"/><path d="M656.76 15.57L668.96 15.57L662.86 25.37Z"/><path d="M657.48 14.92L669.68 14.92L663.58 24.72Z"/><path d="M658.20 14.29L670.40 14.29L664.30 24.09Z"/><path d="M658.90 13.68L671.10 13.68L665.00 23.48Z"/><path d="M659.58 13.07L671.78 13.07L665.68 22.87Z"/><path d="M660.26 12.47L672.46 12.47L666.36 22.27Z"/><path d="M660.92 11.88L673.12 11.88L667.02 21.68Z"/><path d="M661.57 11.31L673.77 11.31L667.67 21.11Z"/><path d="M662.21 10.74L674.41 10.74L668.31 20.54Z"/><path d="M662.84 10.18L675.04 10.18L668.94 19.98Z"/><path d="M663.46 9.63L675.66 9.63L669.56 19.43Z"/><path d="M664.07 9.09L676.27 9.09L670.17 18.89Z"/><path d="M664.67 8.56L676.87 8.56L670.77 18.36Z"/><path d="M665.26 8.04L677.46 8.04L671.36 17.84Z"/><path d="M665.84 7.52L678.04 7.52L671.94 17.32Z"/><path d="M666.41 7.02L678.61 7.02L672.51 16.82Z"/><path d="M666.97 6.52L679.17 6.52L673.07 16.32Z"/><path d="M667.53 6.03L679.73 6.03L673.63 15.83Z"/><path d="M668.08 5.54L680.28 5.54L674.18 15.34Z"/><path d="M668.62 5.06L680.82 5.06L674.72 14.86Z"/><path d="M669.15 4.59L681.35 4.59L675.25 14.39Z"/><path d="M669.68 4.12L681.88 4.12L675.78 13.92Z"/><path d="M670.19 3.67L682.39 3.67L676.29 13.47Z"/><path d="M670.71 3.21L682.91 3.21L676.81 13.01Z"/><path d="M671.21 2.77L683.41 2.77L677.31 12.57Z"/><path d="M671.71 2.32L683.91 2.32L677.81 12.12Z"/><path d="M672.20 1.89L684.40 1.89L678.30 11.69Z"/><path d="M672.68 1.80L684.88 1.80L678.78 11.60Z"/><path d="M673.16 1.80L685.36 1.80L679.26 11.60Z"/></g></g><path d="M683.75 1.15V411.6H74V1.15" fill="none" stroke="#000" stroke-width="1.65"/><rect x="73.2" y="0.72" width="611.35" height="1.28" fill="#000"/><path d="M74.00 411.6V418.80M100.39 411.6V415.20M115.83 411.6V415.20M126.79 411.6V415.20M135.29 411.6V415.20M142.23 411.6V415.20M148.10 411.6V415.20M153.18 411.6V415.20M157.67 411.6V415.20M161.68 411.6V418.80M188.07 411.6V415.20M203.51 411.6V415.20M214.47 411.6V415.20M222.97 411.6V415.20M229.91 411.6V415.20M235.78 411.6V415.20M240.86 411.6V415.20M245.35 411.6V415.20M249.36 411.6V418.80M275.75 411.6V415.20M291.19 411.6V415.20M302.15 411.6V415.20M310.65 411.6V415.20M317.59 411.6V415.20M323.46 411.6V415.20M328.54 411.6V415.20M333.03 411.6V415.20M337.04 411.6V418.80M363.43 411.6V415.20M378.87 411.6V415.20M389.83 411.6V415.20M398.33 411.6V415.20M405.27 411.6V415.20M411.14 411.6V415.20M416.22 411.6V415.20M420.71 411.6V415.20M424.72 411.6V418.80M451.11 411.6V415.20M466.55 411.6V415.20M477.51 411.6V415.20M486.01 411.6V415.20M492.95 411.6V415.20M498.82 411.6V415.20M503.90 411.6V415.20M508.39 411.6V415.20M512.40 411.6V418.80M538.79 411.6V415.20M554.23 411.6V415.20M565.19 411.6V415.20M573.69 411.6V415.20M580.63 411.6V415.20M586.50 411.6V415.20M591.58 411.6V415.20M596.07 411.6V415.20M600.08 411.6V418.80M626.47 411.6V415.20M641.91 411.6V415.20M652.87 411.6V415.20M661.37 411.6V415.20M668.31 411.6V415.20M674.18 411.6V415.20M679.26 411.6V415.20M683.75 411.6V415.20M74 411.60H66.20M74 389.64H70.40M74 376.80H70.40M74 367.69H70.40M74 360.62H70.40M74 354.84H70.40M74 349.96H70.40M74 345.73H70.40M74 342.00H70.40M74 338.66H66.20M74 316.70H70.40M74 303.86H70.40M74 294.75H70.40M74 287.68H70.40M74 281.90H70.40M74 277.02H70.40M74 272.79H70.40M74 269.06H70.40M74 265.72H66.20M74 243.76H70.40M74 230.92H70.40M74 221.81H70.40M74 214.74H70.40M74 208.96H70.40M74 204.08H70.40M74 199.85H70.40M74 196.12H70.40M74 192.78H66.20M74 170.82H70.40M74 157.98H70.40M74 148.87H70.40M74 141.80H70.40M74 136.02H70.40M74 131.14H70.40M74 126.91H70.40M74 123.18H70.40M74 119.84H66.20M74 97.88H70.40M74 85.04H70.40M74 75.93H70.40M74 68.86H70.40M74 63.08H70.40M74 58.20H70.40M74 53.97H70.40M74 50.24H70.40M74 46.90H66.20M74 24.94H70.40M74 12.10H70.40M74 2.99H70.40" fill="none" stroke="#000" stroke-width="1.65"/><g fill="#4d4d4d"><rect x="581.50" y="297.50" width="9.6" height="8.6"/></g><g fill="#ec3b3f"><ellipse cx="586.30" cy="322.80" rx="5.35" ry="4.95"/></g><g fill="#1f6fdc"><path d="M586.30 337.55L592.40 347.25L580.20 347.25Z"/></g><g fill="#37ab69"><path d="M580.20 360.75L592.40 360.75L586.30 370.45Z"/></g></svg>
<div class="yl" style="top:402.1px">1E-9</div><div class="yl" style="top:329.2px">1E-8</div><div class="yl" style="top:256.2px">1E-7</div><div class="yl" style="top:183.3px">1E-6</div><div class="yl" style="top:110.3px">1E-5</div><div class="yl" style="top:37.4px">1E-4</div><div class="xl" style="left:54.0px">10<sup>0</sup></div><div class="xl" style="left:141.7px">10<sup>1</sup></div><div class="xl" style="left:229.4px">10<sup>2</sup></div><div class="xl" style="left:317.0px">10<sup>3</sup></div><div class="xl" style="left:404.7px">10<sup>4</sup></div><div class="xl" style="left:492.4px">10<sup>5</sup></div><div class="xl" style="left:580.1px">10<sup>6</sup></div><div class="lg" style="top:292.9px">Cu1</div><div class="lg" style="top:313.5px">Cu2</div><div class="lg" style="top:333.9px">Cu3</div><div class="lg" style="top:354.4px">Cu5</div>
<div class="xt">Frequency (Hz)</div>
<div class="yt">&sigma;' (S/cm)</div>
</body></html>
